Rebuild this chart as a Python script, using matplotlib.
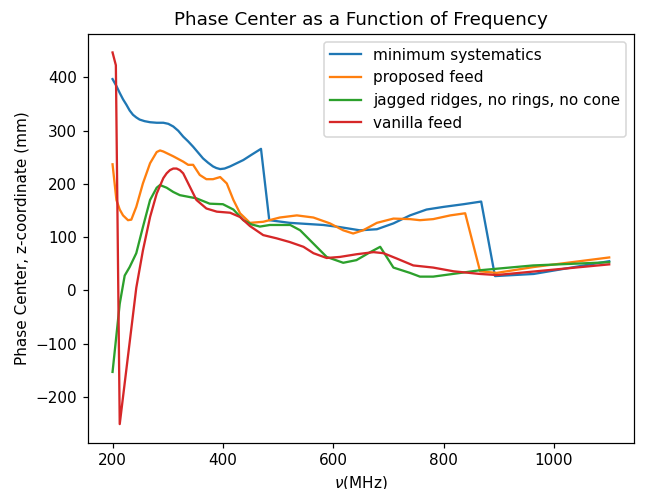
import matplotlib
matplotlib.use("Agg")
import matplotlib.pyplot as plt

# Phase-center z-coordinate (mm) versus frequency (MHz) for four feed designs
freq_min_sys = [200, 207, 213, 219, 225, 231, 237, 243, 249, 258, 268, 280, 292, 301,
                310, 319, 328, 337, 346, 355, 364, 373, 382, 388, 395, 403, 413, 425,
                437, 452, 469, 484, 521, 582, 612, 648, 679, 709, 739, 769, 800, 836,
                868, 893, 963, 1100]
z_min_sys = [397, 384, 371, 359, 349, 338, 330, 325, 321, 318, 316, 315, 315, 313,
             308, 300, 289, 280, 270, 259, 248, 240, 233, 230, 228, 229, 233, 239,
             245, 255, 266, 132, 127, 123, 119, 113, 115, 126, 141, 152, 157, 162,
             167, 27, 31, 55]

freq_proposed = [200, 207, 213, 219, 228, 234, 243, 255, 268, 280, 286, 292, 310, 328,
                 337, 346, 358, 370, 382, 395, 407, 419, 431, 449, 473, 503, 534, 564,
                 594, 618, 636, 654, 679, 709, 739, 757, 781, 812, 839, 866, 896, 963,
                 1100]
z_proposed = [237, 170, 152, 141, 132, 133, 157, 201, 239, 260, 263, 261, 252, 242,
              236, 236, 217, 209, 209, 213, 201, 170, 145, 127, 129, 137, 141, 137,
              126, 113, 107, 113, 127, 135, 134, 132, 134, 141, 145, 36, 33, 44, 62]

freq_jagged = [200, 213, 222, 231, 243, 255, 268, 280, 286, 298, 310, 322, 337, 352,
               376, 400, 419, 437, 452, 467, 485, 522, 540, 564, 588, 618, 642, 667,
               685, 709, 739, 757, 781, 866, 962, 1100]
z_jagged = [-153, -25, 28, 44, 70, 119, 170, 193, 198, 193, 185, 179, 176, 173,
            163, 162, 152, 132, 124, 120, 123, 123, 113, 88, 63, 52, 57, 72,
            82, 43, 33, 26, 26, 38, 47, 53]

freq_vanilla = [200, 206, 213, 243, 255, 268, 280, 292, 298, 304, 310, 316, 322, 328,
                340, 352, 370, 389, 413, 431, 449, 473, 497, 521, 546, 564, 588, 612,
                642, 673, 691, 715, 745, 781, 818, 866, 896, 1100]
z_vanilla = [447, 423, -251, 5, 75, 138, 182, 211, 220, 226, 229, 229, 226, 220,
             195, 170, 154, 148, 146, 138, 121, 104, 98, 91, 82, 70, 61, 63,
             68, 72, 70, 60, 47, 43, 36, 31, 29, 49]

fig = plt.figure(figsize=(645 / 110, 489 / 110), dpi=110)
ax = fig.add_axes([0.136, 0.0947, 0.847, 0.836])

ax.plot(freq_min_sys, z_min_sys, label="minimum systematics")
ax.plot(freq_proposed, z_proposed, label="proposed feed")
ax.plot(freq_jagged, z_jagged, label="jagged ridges, no rings, no cone")
ax.plot(freq_vanilla, z_vanilla, label="vanilla feed")

ax.set_title("Phase Center as a Function of Frequency")
ax.set_xlabel(r"$\nu$(MHz)")
ax.set_ylabel("Phase Center, z-coordinate (mm)")
ax.legend(loc="upper right")

fig.savefig("out.png", dpi=110)
